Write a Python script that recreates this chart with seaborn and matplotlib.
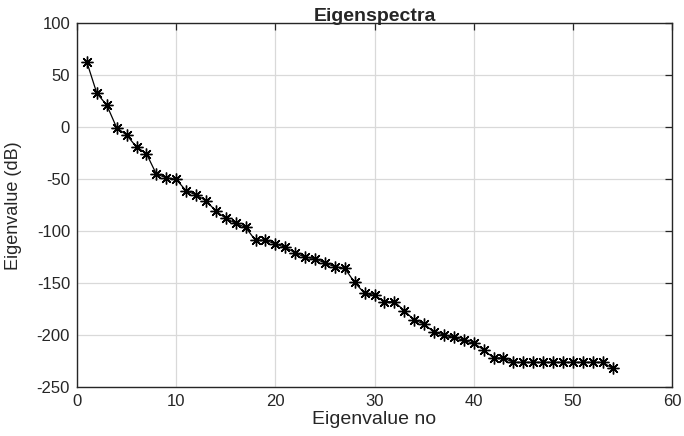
import matplotlib
matplotlib.use("Agg")
import matplotlib.pyplot as plt
import seaborn as sns
import pandas as pd

eig_no = list(range(1, 55))
eig_db = [62.5, 32.7, 21.4, -0.4, -7.4, -18.9, -25.3, -45.0, -48.5, -50.0,
          -61.0, -65.0, -70.5, -80.5, -87.5, -92.3, -96.2, -108.7, -108.5, -112.2,
          -115.4, -120.6, -125.0, -126.2, -130.5, -134.0, -135.6, -149.2, -159.6, -161.7,
          -167.7, -167.7, -176.3, -185.3, -189.1, -197.1, -199.7, -202.0, -204.8, -207.7,
          -213.8, -221.8, -221.8, -226.0, -226.0, -226.0, -226.0, -226.0, -226.0, -226.0,
          -226.0, -226.0, -226.0, -231.7]
x_ticks = [0, 10, 20, 30, 40, 50, 60]
y_ticks = [-250, -200, -150, -100, -50, 0, 50, 100]

sns.set_style("white")
plt.rcParams['font.family'] = ['Liberation Sans', 'DejaVu Sans']
plt.rcParams['axes.unicode_minus'] = False

df = pd.DataFrame({"no": eig_no, "val": eig_db})

fig = plt.figure(figsize=(6.84, 4.36), dpi=100)
ax = fig.add_axes([77/684, 1-387.3/436, (672-77)/684, (387.3-23.3)/436])
sns.lineplot(data=df, x="no", y="val", ax=ax, color="black", linewidth=0.9,
             marker=(8, 2, 0), markersize=8.5, markeredgewidth=1.0,
             markeredgecolor="black", markerfacecolor="black")

ax.set_xlim(0, 60)
ax.set_ylim(-250, 100)
ax.set_xticks(x_ticks)
ax.set_yticks(y_ticks)
ax.grid(True, color="#d9d9d9", linewidth=0.9)
ax.set_axisbelow(True)
for s in ax.spines.values():
    s.set_visible(True)
    s.set_color("#262626")
    s.set_linewidth(1.0)
ax.tick_params(direction="in", length=5, width=0.9, top=True, right=True,
               labelsize=12, colors="#262626", labelcolor="#262626", pad=5)
ax.set_xlabel("Eigenvalue no", fontsize=14, color="#262626", labelpad=1)
ax.set_ylabel("Eigenvalue (dB)", fontsize=13, color="#262626")
ax.yaxis.set_label_coords(-0.093, 0.5)
ax.set_title("Eigenspectra", fontsize=14, fontweight="bold", pad=2)

fig.savefig("out.png", dpi=100)
